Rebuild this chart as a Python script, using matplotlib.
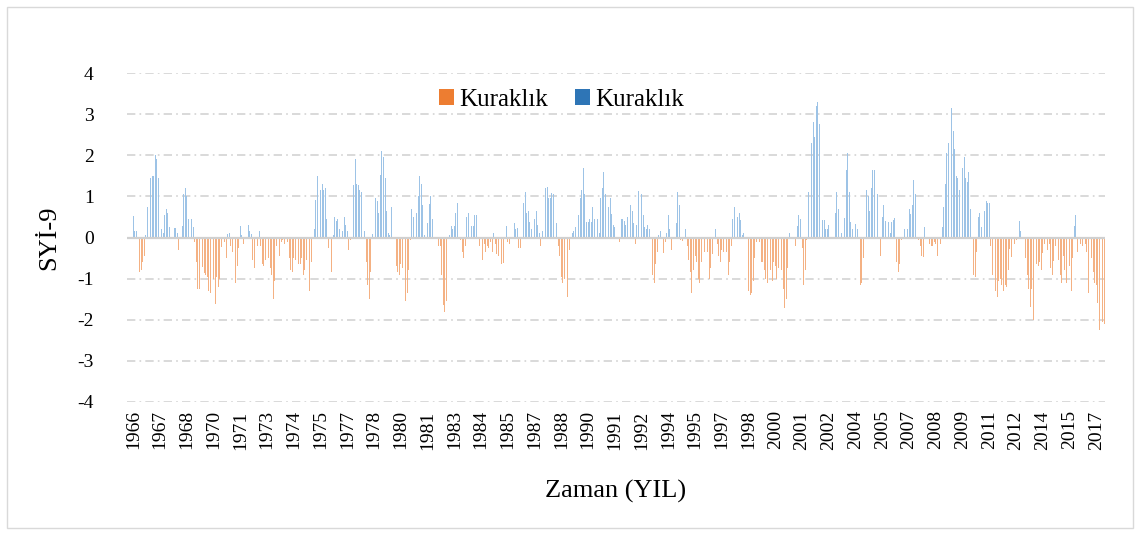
import numpy as np
import matplotlib
matplotlib.use("Agg")
import matplotlib.pyplot as plt
from matplotlib.patches import Rectangle, Patch

# Monthly SPI-9 values (Jan 1966 onward)
spi_1960s = [0.53, 0.17, 0.15, 0.0, -0.83, -0.8, -0.6, -0.45, 0.05, 0.75, 1.3, 1.45,
             1.5, 1.5, 2.0, 1.9, 1.45, 0.85, 0.2, 0.1, 0.55, 0.7, 0.6, 0.25,
             -0.05, 0.0, 0.22, 0.22, 0.1, -0.3, 0.02, 0.28, 1.05, 1.2, 1.0, 0.45,
             0.15, 0.45, 0.25, -0.1, -0.6, -1.26, -1.26, -1.21, -0.72, -0.87, -0.91, -0.95]
spi_1970s = [-1.3, -1.35, -1.23, -1.0, -1.62, -0.95, -1.2, -1.0, -0.22, -0.55, -0.12, -0.5,
             0.08, 0.12, -0.2, -0.35, -0.95, -1.1, -0.7, -0.25, 0.28, 0.07, -0.15, -0.28,
             0.0, 0.3, 0.15, 0.08, -0.55, -0.75, -0.45, -0.2, 0.15, -0.2, -0.65, -0.7,
             -0.55, -0.3, -0.5, -0.75, -0.9, -1.5, -1.05, -0.2, -0.5, -0.45, -0.1, -0.05,
             -0.15, 0.02, -0.1, -0.5, -0.8, -0.85, -0.5, -0.55, -0.3, -0.65, -0.65, -0.5,
             -0.9, -0.8, -0.55, -1.15, -1.3, -0.6, 0.0, 0.2, 0.9, 1.5, 1.2, 1.15,
             1.3, 1.15, 1.2, 0.45, -0.25, -0.6, -0.85, 0.07, 0.5, 0.4, 0.45, 0.2,
             0.68, 0.15, 0.5, 0.3, 0.15, -0.3, -0.05, 0.5, 1.28, 1.9, 1.3, 1.28,
             1.15, 1.1, 0.75, 0.15, -0.6, -1.15, -1.5, -0.85, 0.08, 0.9, 0.95, 0.88,
             0.6, 1.53, 2.1, 1.95, 1.45, 0.65, 0.12, 0.05, 0.75, 0.85, 0.0, -0.7]
spi_1980s = [-0.85, -0.9, -0.65, -0.75, -0.95, -1.55, -1.35, -0.8, -0.05, 0.7, 0.5, 0.55,
             0.6, 1.0, 1.5, 1.3, 0.8, 0.05, -0.35, 0.35, 0.82, 1.0, 0.45, 0.0,
             0.0, -0.05, -0.2, -0.2, -0.9, -1.65, -1.8, -1.55, -0.5, 0.05, 0.28, 0.2,
             0.28, 0.6, 0.85, 0.78, -0.05, -0.35, -0.5, -0.2, 0.5, 0.6, 0.3, 0.28,
             0.28, 0.55, 0.55, 0.0, -0.2, -0.6, -0.55, -0.15, -0.35, -0.2, -0.25, -0.1,
             -0.35, 0.12, -0.15, -0.4, -0.45, -0.62, -0.65, -0.62, 0.0, 0.28, -0.1, -0.15,
             -0.55, 0.0, 0.35, 0.2, 0.22, -0.25, -0.25, 0.38, 0.85, 1.1, 0.6, 0.65,
             0.37, 0.2, 0.25, 0.45, 0.65, 0.3, 0.12, -0.2, 0.15, 1.2, 1.2, 1.22,
             0.95, 0.95, 1.08, 1.05, 1.02, 0.35, -0.2, -0.45, -0.95, -1.1, -1.0, -1.35,
             -1.45, -0.3, 0.0, 0.12, 0.15, 0.25, 0.85, 0.55, 0.95, 1.15, 1.7, 1.05]
spi_1990s = [0.38, 0.38, 0.45, 0.38, 0.75, 0.45, 0.3, 0.45, 0.12, 0.95, 1.2, 1.6,
             1.05, 0.78, 0.75, 0.95, 0.58, 0.3, 0.25, 0.0, -0.45, -0.1, 0.45, 0.45,
             0.4, 0.3, 0.5, 0.52, 0.8, 0.65, 0.35, -0.15, 0.3, 1.12, 1.2, 1.05,
             0.55, 0.25, 0.2, 0.3, 0.2, -0.25, -0.9, -1.1, -0.65, -0.35, 0.05, 0.15,
             -0.3, -0.38, -0.1, 0.1, 0.55, 0.2, -0.3, -0.45, 0.0, 0.35, 1.1, 0.8,
             -0.05, -0.08, -0.15, 0.2, -0.2, -0.55, -0.85, -1.35, -0.8, -0.45, -0.6, -1.0,
             -1.1, -0.6, -0.45, -0.35, 0.0, -0.35, -1.0, -0.75, -0.4, 0.15, 0.2, -0.15,
             -0.45, -0.6, -0.3, -0.35, -0.45, -0.35, -0.9, -0.6, -0.2, 0.45, 0.75, 0.68,
             0.5, 0.6, 0.42, 0.05, 0.12, 0.0, -0.6, -1.3, -1.4, -1.35, -1.05, -0.5,
             -0.1, -0.15, -0.1, -0.6, -0.6, -0.8, -1.0, -1.1, -1.15, -0.8, -1.05, -0.6]
spi_2000s = [-0.7, -1.0, -0.75, -0.55, -0.8, -1.25, -1.72, -1.5, -0.75, 0.1, 0.15, 0.02,
             0.0, -0.2, 0.28, 0.55, 0.45, -0.25, -1.15, -0.8, -0.05, 1.1, 1.8, 2.3,
             2.8, 2.45, 3.2, 3.3, 2.75, 1.45, 0.43, 0.43, 0.2, 0.2, 0.3, 0.0,
             -0.05, 0.02, 0.6, 1.1, 0.7, 0.0, 0.12, 0.08, 0.47, 1.65, 2.05, 1.1,
             0.38, 0.2, 0.45, 0.32, 0.2, 0.0, -1.15, -1.1, -0.5, 0.7, 1.15, 1.02,
             0.65, 1.2, 1.65, 1.65, 1.38, 1.05, 0.0, -0.45, 0.5, 0.8, 0.4, 0.15,
             0.38, 0.12, 0.38, 0.43, 0.47, -0.6, -0.85, -0.65, -0.05, 0.0, 0.2, 0.5,
             0.2, 0.7, 0.58, 0.78, 1.4, 1.05, 0.48, -0.05, -0.2, -0.45, -0.48, 0.25,
             0.0, -0.35, -0.15, -0.2, -0.2, -0.12, -0.15, -0.45, -0.65, -0.15, 0.25, 0.75,
             1.3, 2.05, 2.3, 2.75, 3.15, 2.6, 2.15, 1.5, 1.45, 1.15, 1.88, 1.7]
spi_2010s = [1.95, 1.45, 1.35, 1.6, 0.7, 0.15, -0.9, -0.95, -0.35, 0.5, 0.6, 0.25,
             0.52, 0.65, 0.88, 0.85, 0.85, -0.2, -0.9, -1.15, -1.3, -1.45, -1.05, -1.0,
             -1.15, -1.3, -1.15, -1.2, -0.78, -0.28, -0.48, -0.5, -0.15, -0.05, 0.0, 0.4,
             0.15, 0.0, -0.3, -0.5, -0.9, -1.25, -1.7, -1.25, -2.0, -1.0, -0.65, -0.7,
             -0.6, -0.8, -0.38, -0.15, -0.25, -0.3, -0.15, -0.75, -0.9, -0.58, -0.2, -0.45,
             -0.55, -0.9, -1.1, -0.45, -0.8, -1.1, -1.1, -0.7, -1.3, -0.5, 0.28, 0.55,
             -0.35, -0.05, -0.15, -0.2, 0.0, -0.15, -0.35, -1.35, -1.2, -0.5, -0.85, -1.1,
             -1.15, -1.6, -2.25, -2.2, -2.05, -2.1]

start_year = 1966
label_step = 17
series_name = "Kuraklık"
y_ticks = [-4, -3, -2, -1, 0, 1, 2, 3, 4]

values = np.array(spi_1960s + spi_1970s + spi_1980s + spi_1990s + spi_2000s + spi_2010s)
n = len(values)
idx = np.arange(n)
neg = np.where(values < 0, values, 0.0)
pos = np.where(values > 0, values, 0.0)
cat_labels = [str(start_year + i // 12) for i in range(n)]

plt.rcParams['font.family'] = ['Liberation Serif', 'DejaVu Serif']
plt.rcParams['lines.scale_dashes'] = False

W, H = 1141, 535
fig = plt.figure(figsize=(W / 100, H / 100), dpi=100)
fig.patch.set_facecolor('white')
# outer chart border
fig.patches.append(Rectangle((7 / W, 7 / H), (1133 - 7) / W, (528 - 7) / H,
                             transform=fig.transFigure, fill=False,
                             edgecolor='#D9D9D9', linewidth=1.0))

left, right = 127 / W, 1105 / W
bottom, top = 1 - 402 / H, 1 - 73 / H
ax = fig.add_axes([left, bottom, right - left, top - bottom])

orange = '#ED7D31'
blue = '#2E75B6'
ax.bar(idx, neg, width=0.55, color='#F4B183', linewidth=0, label=series_name)
ax.bar(idx, pos, width=0.55, color='#9DC3E6', linewidth=0, label=series_name)

ax.set_ylim(-4, 4)
ax.set_xlim(-4.0, n - 0.5)
ax.set_yticks(y_ticks)
ax.set_yticklabels([str(t) for t in y_ticks], fontsize=14)
tick_pos = idx[::label_step]
ax.set_xticks(tick_pos)
ax.set_xticklabels([cat_labels[i] for i in tick_pos], rotation=90, fontsize=14)
ax.tick_params(axis='both', length=0, pad=6)
ax.tick_params(axis='y', pad=24)

for t in y_ticks:
    if t == 0:
        continue
    ax.axhline(t, color='#D9D9D9', linewidth=1.4, dashes=(6, 3, 1.2, 3), zorder=0)
ax.axhline(0, color='#D0D0D0', linewidth=1.6, zorder=3)

for s in ax.spines.values():
    s.set_visible(False)

ax.set_ylabel('SYİ-9', fontsize=19, labelpad=12)
ax.set_xlabel('Zaman (YIL)', fontsize=19, labelpad=22)

handles = [Patch(facecolor=orange, edgecolor='none'), Patch(facecolor=blue, edgecolor='none')]
ax.legend(handles, [series_name, series_name], loc='center', bbox_to_anchor=(0.444, 0.918),
          ncol=2, frameon=False, fontsize=18, handlelength=0.6, handleheight=0.6,
          handletextpad=0.2, columnspacing=1.1)

fig.savefig('out.png', dpi=100)
